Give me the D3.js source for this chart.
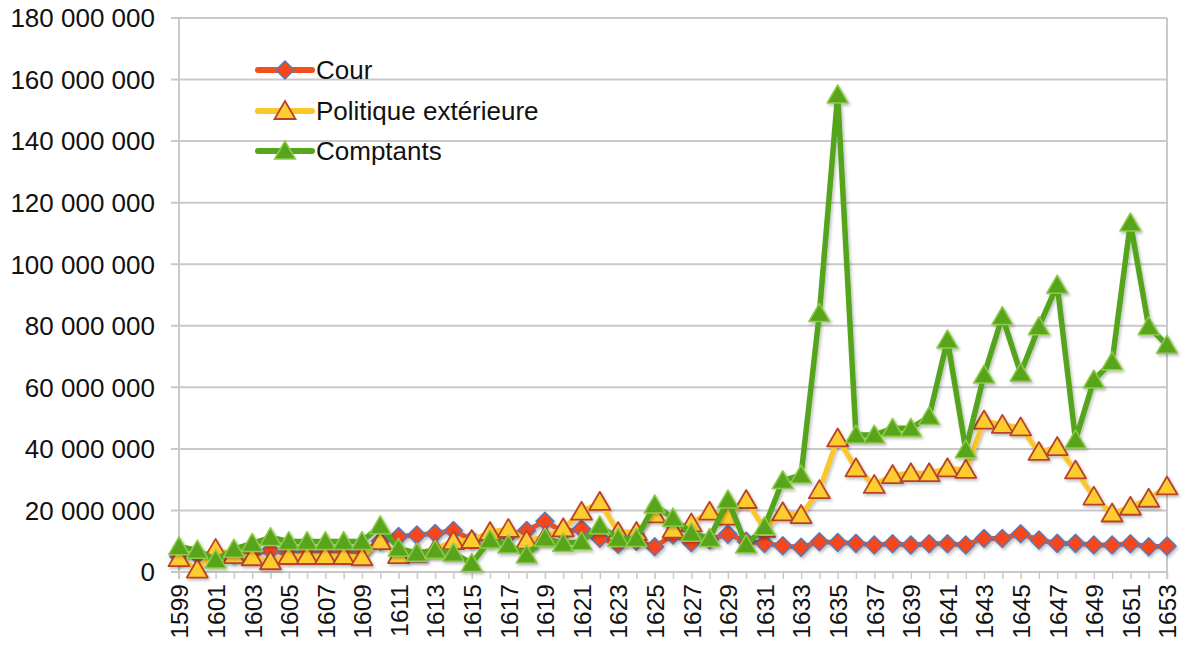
<!DOCTYPE html>
<html>
<head>
<meta charset="utf-8">
<script src="https://cdn.jsdelivr.net/npm/d3@7"></script>
<style>
  html, body { margin: 0; padding: 0; background: #ffffff; }
  svg { display: block; font-family: "Liberation Sans", Arial, Helvetica, sans-serif; }
</style>
</head>
<body>
<svg id="chart" width="1183" height="646"></svg>
<script>
// ---- Data (values in millions) ----
const years = [1599,1600,1601,1602,1603,1604,1605,1606,1607,1608,1609,1610,1611,1612,1613,1614,1615,1616,1617,1618,1619,1620,1621,1622,1623,1624,1625,1626,1627,1628,1629,1630,1631,1632,1633,1634,1635,1636,1637,1638,1639,1640,1641,1642,1643,1644,1645,1646,1647,1648,1649,1650,1651,1652,1653];

const cour = [5,5.5,6,5.5,6,7,6,6.5,6.5,6.5,6.5,10,11.5,12,12.5,13.5,10.5,11,12,13.5,16.5,13,14,11,9,10,8.2,12,9.5,10.5,12.3,10,9.3,8.5,8,9.8,9.6,9.3,8.8,9.2,8.8,9.2,9.2,8.8,10.9,10.9,12.4,10.4,9.3,9.3,8.8,8.8,9.2,8.2,8.4];

const politique = [4.5,0.8,7.5,5.5,4.8,3.5,5.2,5.2,5.2,5.2,4.8,10,5.5,6,7.5,10,10.4,13,14,10.2,11.5,14.2,19.6,22.8,13,13,18.7,13.8,15.8,19.6,18,23.4,14,19.4,18.5,26.6,43.4,33.7,28.3,31.5,32.1,32.1,33.7,33.2,49.2,47.8,47,39,40.6,33,24.5,19,21.2,23.8,27.8];

const comptants = [8.2,7.1,3.9,7.4,9.3,11.2,9.9,9.9,9.9,9.9,9.9,15,7.7,6.1,7.1,6.1,2.8,10.4,8.8,5.5,11,9.3,9.8,15,10.9,10.9,21.8,17.5,12.6,10.9,23.4,8.8,14.7,29.7,31.5,84,155,44.5,44.5,46.7,46.7,50.5,75.4,39.7,64,83,64.6,79.7,93.2,42.9,62.4,68.3,113.4,79.7,73.7];

const yTickValues = [0,20,40,60,80,100,120,140,160,180];
const yTickLabels = ["0","20 000 000","40 000 000","60 000 000","80 000 000","100 000 000","120 000 000","140 000 000","160 000 000","180 000 000"];
const seriesNames = ["Cour","Politique extérieure","Comptants"];

// ---- Layout ----
const svg = d3.select("#chart");
const pL = 179, pR = 1167, pT = 18, pB = 572;

const x = d3.scalePoint().domain(years).range([pL, pR]).padding(0);
const y = d3.scaleLinear().domain([0, 180]).range([pB, pT]);

const defs = svg.append("defs");
const f = defs.append("filter").attr("id","shadow").attr("x","-20%").attr("y","-20%").attr("width","140%").attr("height","140%");
f.append("feDropShadow").attr("dx",1.5).attr("dy",2).attr("stdDeviation",1.5).attr("flood-color","#000").attr("flood-opacity",0.25);

const gridColor = "#c9c9c9";

// gridlines
svg.append("g").selectAll("line").data(yTickValues.slice(1)).join("line")
  .attr("x1", pL - 8).attr("x2", pR)
  .attr("y1", d => y(d)).attr("y2", d => y(d))
  .attr("stroke", gridColor).attr("stroke-width", 2);

// y axis labels
svg.append("g").selectAll("text").data(yTickValues).join("text")
  .attr("x", 155).attr("y", d => y(d)).attr("dy","0.36em")
  .attr("text-anchor","end").attr("font-size", 26).attr("fill","#111")
  .text((d,i) => yTickLabels[i]);

// y axis line + right border
svg.append("line").attr("x1", pL).attr("x2", pL).attr("y1", pT).attr("y2", pB + 7)
  .attr("stroke", gridColor).attr("stroke-width", 2);
svg.append("line").attr("x1", pR).attr("x2", pR).attr("y1", pT).attr("y2", pB + 7)
  .attr("stroke", gridColor).attr("stroke-width", 2);

// x axis with ticks
const xAxis = d3.axisBottom(x).tickSize(7).tickFormat(d => (d % 2 === 1) ? String(d) : "");
const gx = svg.append("g").attr("transform", `translate(0,${pB})`).call(xAxis);
gx.select(".domain").attr("stroke", gridColor).attr("stroke-width", 2).attr("d", `M${pL - 8},0H${pR}`);
gx.selectAll(".tick line").attr("stroke", gridColor).attr("stroke-width", 1.5);
gx.selectAll(".tick text")
  .attr("font-size", 24.5).attr("fill","#111")
  .attr("font-family", "Liberation Sans, Arial, sans-serif")
  .attr("transform","rotate(-90)")
  .attr("text-anchor","end")
  .attr("x", -12).attr("y", 0).attr("dy","0.36em");

// series definitions
const triPath = "M0,-10L10.5,8L-10.5,8Z";
const diaPath = "M0,-9L9,0L0,9L-9,0Z";

const series = [
  { name: seriesNames[0], values: cour, line: "#f0501e", lw: 5, marker: diaPath, fill: "#f6461a", stroke: "#5b78b8", sw: 1.5 },
  { name: seriesNames[1], values: politique, line: "#fbc62a", lw: 5, marker: triPath, fill: "#fdcc2e", stroke: "#b8432b", sw: 1.8 },
  { name: seriesNames[2], values: comptants, line: "#55a51f", lw: 5.5, marker: triPath, fill: "#58a51f", stroke: "#8fcb4a", sw: 1.5 }
];

const lineGen = d3.line().x((d,i) => x(years[i])).y(d => y(d));

series.forEach(s => {
  const g = svg.append("g").attr("filter","url(#shadow)");
  g.append("path").attr("d", lineGen(s.values)).attr("fill","none")
    .attr("stroke", s.line).attr("stroke-width", s.lw).attr("stroke-linejoin","round");
  g.selectAll("path.m").data(s.values).join("path").attr("class","m")
    .attr("transform", (d,i) => `translate(${x(years[i])},${y(d)})`)
    .attr("d", s.marker).attr("fill", s.fill).attr("stroke", s.stroke).attr("stroke-width", s.sw)
    .attr("stroke-linejoin","round");
});

// legend
const legend = svg.append("g");
const legY = [70, 111, 151];
series.forEach((s, i) => {
  const g = legend.append("g").attr("transform", `translate(0,${legY[i]})`);
  g.append("line").attr("x1", 258).attr("x2", 312).attr("y1", 0).attr("y2", 0)
    .attr("stroke", s.line).attr("stroke-width", 6).attr("stroke-linecap","round");
  g.append("path").attr("transform","translate(285,0)")
    .attr("d", s.marker).attr("fill", s.fill).attr("stroke", s.stroke).attr("stroke-width", s.sw);
  g.append("text").attr("x", 316).attr("y", 0).attr("dy","0.36em")
    .attr("font-size", 26).attr("fill","#111").text(s.name);
});
</script>
</body>
</html>
